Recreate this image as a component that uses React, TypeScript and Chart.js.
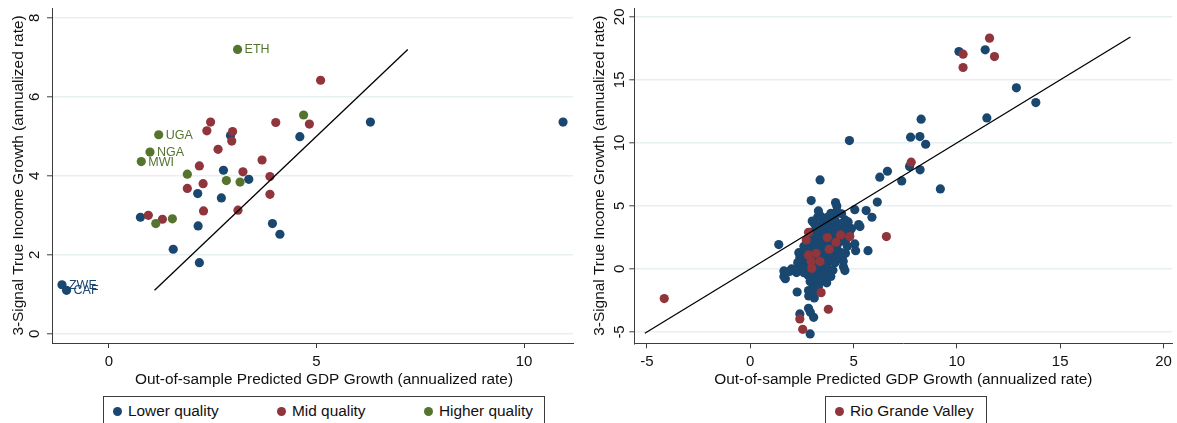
import React, { useEffect, useRef } from "react";
import { Chart, registerables } from "chart.js";

Chart.register(...registerables);

// ---------- colours / text ----------
const BLUE = "#1a476f";
const RED = "#90353b";
const GREEN = "#55752f";
const GRID = "#e8eff1";
const AXIS = "#3c3c3c";
const TEXT = "#111111";
const FONT = "'Liberation Sans', Arial, Helvetica, sans-serif";

const X_TITLE = "Out-of-sample Predicted GDP Growth (annualized rate)";
const Y_TITLE = "3-Signal True Income Growth (annualized rate)";

// ---------- left panel data ----------
const lowerX = [2.93, 4.6, 6.3, 2.76, 3.37, 2.14, 2.71, 0.76, 2.15, 3.94, 4.12, 1.55, 2.18, -1.13, -1.02, 10.94];
const lowerY = [5.02, 4.99, 5.36, 4.14, 3.91, 3.55, 3.44, 2.95, 2.73, 2.79, 2.52, 2.14, 1.8, 1.24, 1.1, 5.36];
const lowerLabels = ["", "", "", "", "", "", "", "", "", "", "", "", "", "ZWE", "CAF", ""];

const midX = [5.1, 4.83, 4.02, 2.45, 2.36, 2.98, 2.96, 2.63, 3.69, 2.18, 3.23, 3.88, 2.27, 1.89, 3.88, 2.28, 3.11, 0.95, 1.29];
const midY = [6.42, 5.31, 5.35, 5.36, 5.14, 5.12, 4.88, 4.67, 4.4, 4.25, 4.1, 3.98, 3.8, 3.68, 3.53, 3.11, 3.13, 3.0, 2.9];

const higherX = [3.1, 4.69, 1.2, 0.99, 0.78, 1.89, 2.83, 3.16, 1.13, 1.53];
const higherY = [7.2, 5.54, 5.04, 4.6, 4.36, 4.04, 3.88, 3.84, 2.79, 2.91];
const higherLabels = ["ETH", "", "UGA", "NGA", "MWI", "", "", "", "", ""];

const leftFitX = [1.1, 7.2];
const leftFitY = [1.1, 7.2];

const leftXTicks = [0, 5, 10];
const leftYTicks = [0, 2, 4, 6, 8];

// ---------- right panel data ----------
const countyX = [
  10.1, 11.37, 12.88, 13.82, 11.45, 8.27, 7.76, 8.21, 8.49, 7.71, 8.22, 7.33, 9.2, 6.64, 6.27, 6.15,
  4.8, 3.38, 2.95, 4.13, 4.19, 5.06, 5.61, 5.89, 5.25, 5.31, 5.06, 5.1, 5.7, 4.51, 4.58, 4.61, 4.5,
  4.74, 4.59, 4.42, 4.02, 3.74, 3.55, 3.26, 1.38, 2.9, 2.4, 2.82, 2.91, 3.07, 2.27, 2.82, 2.83, 1.63,
  1.7, 1.63, 2.14, 2.24, 2.35, 2.5, 3.22,
  2.4, 2.5, 2.6, 2.6, 2.7, 2.7, 2.8, 2.8, 2.8, 2.9, 2.9, 2.9, 3.0, 3.0, 3.0, 3.0, 3.1, 3.1, 3.1, 3.1,
  3.2, 3.2, 3.2, 3.2, 3.3, 3.3, 3.3, 3.3, 3.4, 3.4, 3.4, 3.4, 3.5, 3.5, 3.5, 3.5, 3.6, 3.6, 3.6, 3.6,
  3.7, 3.7, 3.7, 3.8, 3.8, 3.8, 3.9, 3.9, 3.9, 4.0, 4.0, 4.0, 4.1, 4.1, 4.1, 4.2, 4.2, 4.3, 4.3, 4.4,
  4.4, 2.6, 2.5, 2.3, 2.2, 2.0, 1.9, 3.0, 3.2, 3.1, 3.3, 3.5, 3.9, 4.0, 3.7, 2.9, 3.1, 3.4, 3.6, 3.9,
  4.2, 3.3, 3.0, 4.5, 4.6, 4.5, 4.6, 4.8, 4.7, 4.9,
];
const countyY = [
  17.25, 17.38, 14.37, 13.2, 11.98, 11.88, 10.45, 10.5, 9.89, 8.12, 7.86, 6.98, 6.35, 7.75, 7.28, 5.3,
  10.18, 7.06, 5.42, 5.26, 5.0, 4.7, 4.63, 4.1, 3.52, 3.36, 1.98, 1.45, 1.45, 0.18, -0.13, 1.24, 1.11,
  3.73, 3.89, 4.37, 4.29, 4.1, 4.02, 4.1, 1.93, -5.16, -3.57, -3.12, -3.44, -3.84, -1.83, -1.72, -2.14, -0.61,
  -0.77, -0.16, -0.08, -0.29, 1.29, 0.45, -1.27,
  0.9, 1.3, 0.6, 1.8, 0.2, 1.0, -0.5, 1.5, 2.2, 0.3, -1.0, 1.9, 0.8, -0.3, 2.6, 1.3, -1.3, 0.2, 1.7, 3.0,
  -0.7, 0.9, 2.2, 3.4, -0.2, 1.4, 2.7, 0.4, -1.0, 1.0, 1.9, 3.1, 0.1, 2.4, 3.6, 1.5, -0.4, 0.8, 2.0, 2.9,
  1.2, 3.3, 0.3, 2.6, 3.8, -0.2, 1.9, 3.0, 0.7, 2.4, 3.5, 1.2, 0.5, 2.9, 3.9, 1.6, 3.2, 0.9, 2.1, 3.6,
  1.3, -0.3, 0.1, 0.5, -0.1, 0.0, -0.2, -1.6, -1.8, -2.3, -1.4, -0.8, -0.6, -0.1, -1.1, 2.9, 3.6, 4.2, 3.9, 4.4,
  4.6, 4.6, 3.8, 2.9, 2.2, 0.6, 3.3, 2.9, 1.8, 3.2,
];

const rgvX = [10.3, 10.3, 11.58, 11.82, 7.79, 6.59, -4.16, 2.82, 2.71, 3.73, 4.37, 4.82, 4.15, 3.82, 3.19, 2.82, 3.38, 2.95, 2.98, 3.43, 3.78, 2.4, 2.54];
const rgvY = [17.04, 15.98, 18.31, 16.85, 8.47, 2.57, -2.35, 2.91, 2.3, 2.49, 2.7, 2.57, 2.12, 1.56, 1.24, 1.11, 0.58, 0.58, 0.05, -1.88, -3.2, -3.97, -4.79];

const rightFitX = [-5.1, 18.4];
const rightFitY = [-5.1, 18.4];

const rightXTicks = [-5, 0, 5, 10, 15, 20];
const rightYTicks = [-5, 0, 5, 10, 15, 20];

// ---------- helpers ----------
const pts = (xs: number[], ys: number[]) => xs.map((x, i) => ({ x, y: ys[i] }));

const scatterSet = (label: string, xs: number[], ys: number[], color: string, order: number, labels?: string[]) => ({
  label,
  data: pts(xs, ys),
  backgroundColor: color,
  borderColor: color,
  borderWidth: 0,
  pointRadius: 4.6,
  pointHoverRadius: 4.6,
  order,
  pointLabels: labels,
});

const fitSet = (xs: number[], ys: number[]) => ({
  label: "fit",
  data: pts(xs, ys),
  showLine: true,
  borderColor: "#000000",
  borderWidth: 1.3,
  pointRadius: 0,
  fill: false,
  order: 0,
});

const pointLabelPlugin = {
  id: "pointLabels",
  afterDatasetsDraw(chart: any) {
    const { ctx, chartArea: a } = chart;
    ctx.save();
    ctx.beginPath();
    ctx.rect(a.left, a.top, a.right - a.left, a.bottom - a.top);
    ctx.clip();
    chart.data.datasets.forEach((ds: any, i: number) => {
      const labels: string[] | undefined = ds.pointLabels;
      if (!labels) return;
      const meta = chart.getDatasetMeta(i);
      ctx.fillStyle = ds.backgroundColor;
      ctx.font = `12.5px ${FONT}`;
      ctx.textAlign = "left";
      ctx.textBaseline = "middle";
      meta.data.forEach((el: any, j: number) => {
        if (labels[j]) ctx.fillText(labels[j], el.x + 7, el.y + 0.5);
      });
    });
    ctx.restore();
  },
};

type PanelCfg = {
  width: number;
  left: number;
  datasets: any[];
  xMin: number;
  xMax: number;
  xTicks: number[];
  yMin: number;
  yMax: number;
  yTicks: number[];
  yAxisWidth: number;
  xAxisHeight: number;
  padTop: number;
  padRight: number;
  yTitlePad: number;
  yTickPad: number;
  xTitleShift: number;
};

function Panel({ cfg }: { cfg: PanelCfg }) {
  const ref = useRef<HTMLCanvasElement>(null);
  useEffect(() => {
    const tickFont = { family: FONT, size: 15 };
    const titleFont = { family: FONT, size: 15.4 };
    // x-axis title, centred like the reference (slightly right of plot centre on the left panel)
    const xTitlePlugin = {
      id: "xTitle",
      afterDraw(chart: any) {
        const { ctx, chartArea: a } = chart;
        const xs = chart.scales.x;
        ctx.save();
        ctx.font = `15.4px ${FONT}`;
        ctx.fillStyle = TEXT;
        ctx.textAlign = "center";
        ctx.textBaseline = "middle";
        ctx.fillText(X_TITLE, (a.left + a.right) / 2 + cfg.xTitleShift, xs.bottom - 33.8 - 9.24);
        ctx.restore();
      },
    };
    const chart = new Chart(ref.current as HTMLCanvasElement, {
      type: "scatter",
      data: { datasets: cfg.datasets },
      options: {
        responsive: false,
        animation: false,
        devicePixelRatio: 1,
        events: [],
        layout: { padding: { top: cfg.padTop, right: cfg.padRight, left: 0, bottom: 0 } },
        plugins: { legend: { display: false }, tooltip: { enabled: false } },
        scales: {
          x: {
            type: "linear",
            position: "bottom",
            min: cfg.xMin,
            max: cfg.xMax,
            afterFit: (s: any) => {
              s.height = cfg.xAxisHeight;
              s.paddingLeft = 0;
              s.paddingRight = 0;
            },
            afterBuildTicks: (s: any) => {
              s.ticks = cfg.xTicks.map((v) => ({ value: v }));
            },
            ticks: { color: TEXT, font: tickFont, padding: 5, maxRotation: 0, minRotation: 0, autoSkip: false },
            grid: { drawOnChartArea: false, drawTicks: true, tickLength: 5, tickColor: AXIS, tickWidth: 1 },
            border: { display: true, color: AXIS, width: 1 },
            title: { display: false, text: X_TITLE },
          },
          y: {
            type: "linear",
            position: "left",
            min: cfg.yMin,
            max: cfg.yMax,
            afterFit: (s: any) => {
              s.width = cfg.yAxisWidth;
              s.paddingTop = 0;
              s.paddingBottom = 0;
            },
            afterBuildTicks: (s: any) => {
              s.ticks = cfg.yTicks.map((v) => ({ value: v }));
            },
            ticks: {
              color: TEXT,
              font: tickFont,
              padding: cfg.yTickPad,
              minRotation: 90,
              maxRotation: 90,
              crossAlign: "center",
              autoSkip: false,
            },
            grid: { color: GRID, lineWidth: 1.6, drawTicks: true, tickLength: 5, tickColor: AXIS, tickWidth: 1 },
            border: { display: true, color: AXIS, width: 1 },
            title: { display: true, text: Y_TITLE, color: TEXT, font: titleFont, padding: { top: cfg.yTitlePad, bottom: 0 } },
          },
        },
      } as any,
      plugins: [pointLabelPlugin, xTitlePlugin],
    });
    return () => chart.destroy();
  }, [cfg]);
  return (
    <canvas
      ref={ref}
      width={cfg.width}
      height={423}
      style={{ position: "absolute", left: cfg.left, top: 0, width: cfg.width, height: 423 }}
    />
  );
}

function Legend({ left, width, items }: { left: number; width: number; items: { label: string; color: string }[] }) {
  return (
    <div
      style={{
        position: "absolute",
        left,
        top: 396,
        width,
        height: 40,
        boxSizing: "border-box",
        border: `1px solid ${AXIS}`,
        display: "flex",
        justifyContent: items.length > 1 ? "space-between" : "flex-start",
        alignItems: "flex-start",
        padding: "4px 11px 0 9px",
        fontFamily: FONT,
        fontSize: 15.4,
        color: TEXT,
        background: "#ffffff",
      }}
    >
      {items.map((it) => (
        <div key={it.label} style={{ display: "flex", alignItems: "center", height: 20, whiteSpace: "nowrap" }}>
          <span
            style={{
              display: "inline-block",
              width: 9,
              height: 9,
              borderRadius: "50%",
              background: it.color,
              marginRight: 6,
            }}
          />
          <span>{it.label}</span>
        </div>
      ))}
    </div>
  );
}

const leftCfg: PanelCfg = {
  width: 590,
  left: 0,
  datasets: [
    fitSet(leftFitX, leftFitY),
    scatterSet("Higher quality", higherX, higherY, GREEN, 1, higherLabels),
    scatterSet("Mid quality", midX, midY, RED, 2),
    scatterSet("Lower quality", lowerX, lowerY, BLUE, 3, lowerLabels),
  ],
  xMin: -1.37,
  xMax: 11.18,
  xTicks: leftXTicks,
  yMin: -0.235,
  yMax: 8.25,
  yTicks: leftYTicks,
  yAxisWidth: 52,
  xAxisHeight: 80,
  padTop: 8,
  padRight: 17,
  yTitlePad: 10,
  yTickPad: 8,
  xTitleShift: 11.5,
};

const rightCfg: PanelCfg = {
  width: 587,
  left: 590,
  datasets: [
    fitSet(rightFitX, rightFitY),
    scatterSet("Rio Grande Valley", rgvX, rgvY, RED, 1),
    scatterSet("Other counties", countyX, countyY, BLUE, 2),
  ],
  xMin: -5.61,
  xMax: 20.43,
  xTicks: rightXTicks,
  yMin: -5.9,
  yMax: 20.7,
  yTicks: rightYTicks,
  yAxisWidth: 44.3,
  xAxisHeight: 79.7,
  padTop: 8,
  padRight: 0,
  yTitlePad: 0.8,
  yTickPad: 1,
  xTitleShift: 0,
};

export default function App() {
  return (
    <div
      style={{
        position: "fixed",
        left: 0,
        top: 0,
        width: 1177,
        height: 423,
        overflow: "hidden",
        background: "#ffffff",
      }}
    >
      <Panel cfg={leftCfg} />
      <Panel cfg={rightCfg} />
      <Legend
        left={103}
        width={442}
        items={[
          { label: "Lower quality", color: BLUE },
          { label: "Mid quality", color: RED },
          { label: "Higher quality", color: GREEN },
        ]}
      />
      <Legend left={825} width={162} items={[{ label: "Rio Grande Valley", color: RED }]} />
    </div>
  );
}
